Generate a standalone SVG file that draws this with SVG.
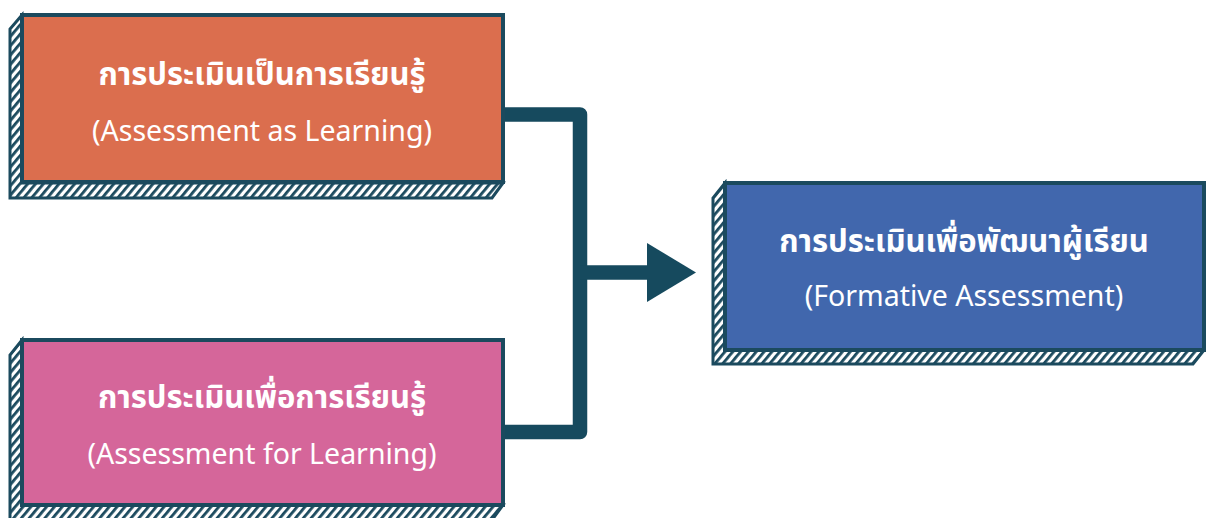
<svg xmlns="http://www.w3.org/2000/svg" width="1206" height="518" viewBox="0 0 1206 518">
  <defs>
    <pattern id="hatch" patternUnits="userSpaceOnUse" width="6" height="6" patternTransform="rotate(40)">
      <rect width="6" height="6" fill="#ffffff"/>
      <rect width="2.8" height="6" fill="#1b4a5e"/>
    </pattern>
  </defs>
  <style>
    .side { fill: url(#hatch); stroke: #1b4a5e; stroke-width: 3; stroke-linejoin: miter; }
    .face { stroke: #1b4a5e; stroke-width: 4; }
    .orange { fill: #db6e4e; }
    .pink { fill: #d5669a; }
    .blue { fill: #4167ad; }
    .th { font-family: "Noto Sans Thai", "Noto Sans", "DejaVu Sans", sans-serif; font-weight: bold; font-size: 31px; fill: #ffffff; text-anchor: middle; }
    .en { font-family: "Noto Sans", "Open Sans", sans-serif; font-size: 28.5px; fill: #ffffff; text-anchor: middle; }
    .link { fill: none; stroke: #164a5e; stroke-width: 14.5; stroke-linejoin: round; }
  </style>

  <g id="connectors">
    <path class="link" d="M505,114.5 H580 V432 H505"/>
    <path class="link" d="M580,272.5 H650" stroke-linejoin="miter"/>
    <polygon points="647,243 696,272.5 647,302" fill="#164a5e"/>
  </g>

  <g id="node-as-learning">
    <polygon class="side" points="22,15 10,29 10,198 492,198 503,183 22,183"/>
    <rect class="face orange" x="22" y="15" width="481" height="167"/>
    <text class="th" x="262" y="85">การประเมินเป็นการเรียนรู้</text>
    <text class="en" x="262" y="141">(Assessment as Learning)</text>
  </g>

  <g id="node-for-learning">
    <polygon class="side" points="22,340 10,355 10,520 492,520 503,505 22,505"/>
    <rect class="face pink" x="22" y="340" width="481" height="165"/>
    <text class="th" x="262" y="408">การประเมินเพื่อการเรียนรู้</text>
    <text class="en" x="262" y="464">(Assessment for Learning)</text>
  </g>

  <g id="node-formative">
    <polygon class="side" points="725,183 713,198 713,364 1193,364 1204,350 725,350"/>
    <rect class="face blue" x="725" y="183" width="479" height="167"/>
    <text class="th" x="964" y="252">การประเมินเพื่อพัฒนาผู้เรียน</text>
    <text class="en" x="964" y="306">(Formative Assessment)</text>
  </g>
</svg>
